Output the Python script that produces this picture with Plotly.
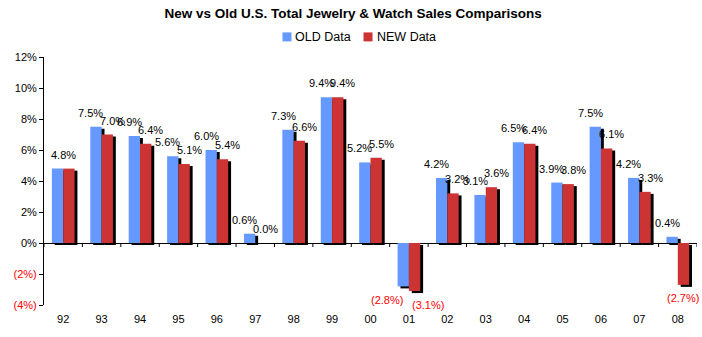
import plotly.graph_objects as go

# Annual % change in U.S. total jewelry & watch sales, old vs revised series
years = ["92", "93", "94", "95", "96", "97", "98", "99", "00",
         "01", "02", "03", "04", "05", "06", "07", "08"]
old_data = [4.8, 7.5, 6.9, 5.6, 6.0, 0.6, 7.3, 9.4, 5.2,
            -2.8, 4.2, 3.1, 6.5, 3.9, 7.5, 4.2, 0.4]
new_data = [4.8, 7.0, 6.4, 5.1, 5.4, 0.0, 6.6, 9.4, 5.5,
            -3.1, 3.2, 3.6, 6.4, 3.8, 6.1, 3.3, -2.7]
series_names = ["OLD Data", "NEW Data"]
y_ticks = [-4, -2, 0, 2, 4, 6, 8, 10, 12]

BLUE = "#6699FF"
RED = "#CC3333"
FONT = "Arial, Liberation Sans, sans-serif"

BAR_W = 0.295          # bar width in category units
SHADOW_DX = 0.075      # drop-shadow offset to the right (category units)
SHADOW_DY = 0.13       # drop-shadow offset downward (% units)

idx = list(range(len(years)))


def pct(v):
    return f"{v:.1f}%" if v >= 0 else f"({abs(v):.1f}%)"


fig = go.Figure()

# drop shadows first, then the coloured bars on top
for vals, off in ((old_data, -BAR_W), (new_data, 0.0)):
    fig.add_trace(go.Bar(
        x=idx, y=vals, base=-SHADOW_DY, width=BAR_W, offset=off + SHADOW_DX,
        marker=dict(color="black", line=dict(width=0)),
        showlegend=False, hoverinfo="skip"))

fig.add_trace(go.Bar(x=idx, y=old_data, width=BAR_W, offset=-BAR_W, name=series_names[0],
                     marker=dict(color=BLUE, line=dict(width=0)), showlegend=False))
fig.add_trace(go.Bar(x=idx, y=new_data, width=BAR_W, offset=0.0, name=series_names[1],
                     marker=dict(color=RED, line=dict(width=0)), showlegend=False))

# value labels (pixel nudges for a few crowded spots)
nudge_old = {0: 0, 9: -16}
nudge_new = {9: 13, 16: 0}
skip_new = {0}  # 92: both series equal, one shared label
annotations = []
for i, (o, n) in enumerate(zip(old_data, new_data)):
    for v, cx, dx, is_new in ((o, i - BAR_W / 2, nudge_old.get(i, -5), False),
                              (n, i + BAR_W / 2, nudge_new.get(i, 5), True)):
        if is_new and i in skip_new:
            continue
        if not is_new and i in skip_new:
            cx = i
        annotations.append(dict(
            x=cx, y=v, xref="x", yref="y", text=pct(v), showarrow=False,
            xshift=dx, yshift=14 if v >= 0 else -13.5, yanchor="middle",
            font=dict(family=FONT, size=11, color="black" if v >= 0 else "red")))

# x-axis tick marks on the zero line at category boundaries
shapes = []
for k in range(len(years) + 1):
    shapes.append(dict(type="line", xref="x", yref="y", ysizemode="pixel", yanchor=0,
                       x0=k - 0.5, x1=k - 0.5, y0=0, y1=-4,
                       line=dict(color="black", width=1)))

# compact legend: colour swatch + label, centred above the plot
legend_y = 1.081
for name, color, x_sw in ((series_names[0], BLUE, 0.3652), (series_names[1], RED, 0.4893)):
    shapes.append(dict(type="rect", xref="paper", yref="paper",
                       xsizemode="pixel", ysizemode="pixel",
                       xanchor=x_sw, yanchor=legend_y,
                       x0=0, x1=9, y0=-4.5, y1=4.5,
                       fillcolor=color, line=dict(width=0)))
    annotations.append(dict(x=x_sw, y=legend_y, xref="paper", yref="paper",
                            xshift=11, xanchor="left", yanchor="middle",
                            text=name, showarrow=False,
                            font=dict(family=FONT, size=12.5, color="black")))

y_text = [f"{t}%" if t >= 0 else f"<span style='color:red'>({abs(t)}%)</span>"
          for t in y_ticks]

fig.update_layout(
    width=702, height=337,
    margin=dict(l=44, r=5, t=57, b=32),
    paper_bgcolor="white", plot_bgcolor="white",
    barmode="overlay",
    showlegend=False,
    font=dict(family=FONT, size=11, color="black"),
    title=dict(text="<b>New vs Old U.S. Total Jewelry & Watch Sales Comparisons</b>",
               x=0.503, xanchor="center", y=0.962, yanchor="middle",
               font=dict(family=FONT, size=13.5, color="black")),
    xaxis=dict(range=[-0.5, len(years) - 0.5], tickvals=idx, ticktext=years,
               showgrid=False, zeroline=False, showline=False, ticks="",
               ticklabelstandoff=6, tickfont=dict(family=FONT, size=11)),
    yaxis=dict(range=[-4, 12], tickvals=y_ticks, ticktext=y_text,
               showgrid=False, zeroline=True, zerolinecolor="black", zerolinewidth=1,
               showline=True, linecolor="black", linewidth=1,
               ticks="outside", ticklen=4, tickcolor="black",
               tickfont=dict(family=FONT, size=11)),
    annotations=annotations,
    shapes=shapes,
)

fig.write_html("out.html")
